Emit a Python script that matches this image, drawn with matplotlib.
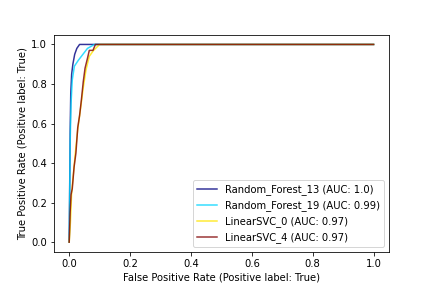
import numpy as np
import matplotlib
matplotlib.use("Agg")
import matplotlib.pyplot as plt

# ROC points (fpr, tpr)
rf13_fpr = [0.0, 0.003, 0.005, 0.008, 0.012, 0.018, 0.025, 0.034, 1.0]
rf13_tpr = [0.0, 0.55, 0.75, 0.85, 0.90, 0.95, 0.98, 1.0, 1.0]

rf19_fpr = [0.0, 0.003, 0.006, 0.010, 0.017, 0.030, 0.045, 0.060, 0.083, 1.0]
rf19_tpr = [0.0, 0.50, 0.70, 0.82, 0.89, 0.92, 0.95, 0.98, 1.0, 1.0]

svc0_fpr = [0.0, 0.004, 0.008, 0.014, 0.020, 0.028, 0.036, 0.046, 0.055, 0.066, 0.080, 0.100, 1.0]
svc0_tpr = [0.0, 0.10, 0.25, 0.35, 0.45, 0.57, 0.66, 0.78, 0.87, 0.94, 0.97, 1.0, 1.0]

svc4_fpr = [0.0, 0.003, 0.006, 0.010, 0.016, 0.022, 0.028, 0.034, 0.040, 0.046, 0.052, 0.060, 0.066, 0.078, 0.086, 1.0]
svc4_tpr = [0.0, 0.15, 0.24, 0.27, 0.38, 0.45, 0.58, 0.64, 0.72, 0.81, 0.88, 0.93, 0.97, 0.97, 1.0, 1.0]

labels = [
    "Random_Forest_13 (AUC: 1.0)",
    "Random_Forest_19 (AUC: 0.99)",
    "LinearSVC_0 (AUC: 0.97)",
    "LinearSVC_4 (AUC: 0.97)",
]
colors = plt.cm.jet(np.linspace(0, 1, len(labels)))

fig, ax = plt.subplots(figsize=(6, 4), dpi=72)
fig.subplots_adjust(bottom=0.125)
curves = [(rf13_fpr, rf13_tpr), (rf19_fpr, rf19_tpr), (svc0_fpr, svc0_tpr), (svc4_fpr, svc4_tpr)]
for (fpr, tpr), lab, col in zip(curves, labels, colors):
    ax.plot(fpr, tpr, color=col, alpha=0.8, label=lab)

ax.set_xlabel("False Positive Rate (Positive label: True)")
ax.set_ylabel("True Positive Rate (Positive label: True)")
ax.legend(loc="lower right")

fig.savefig("out.png", dpi=72)
